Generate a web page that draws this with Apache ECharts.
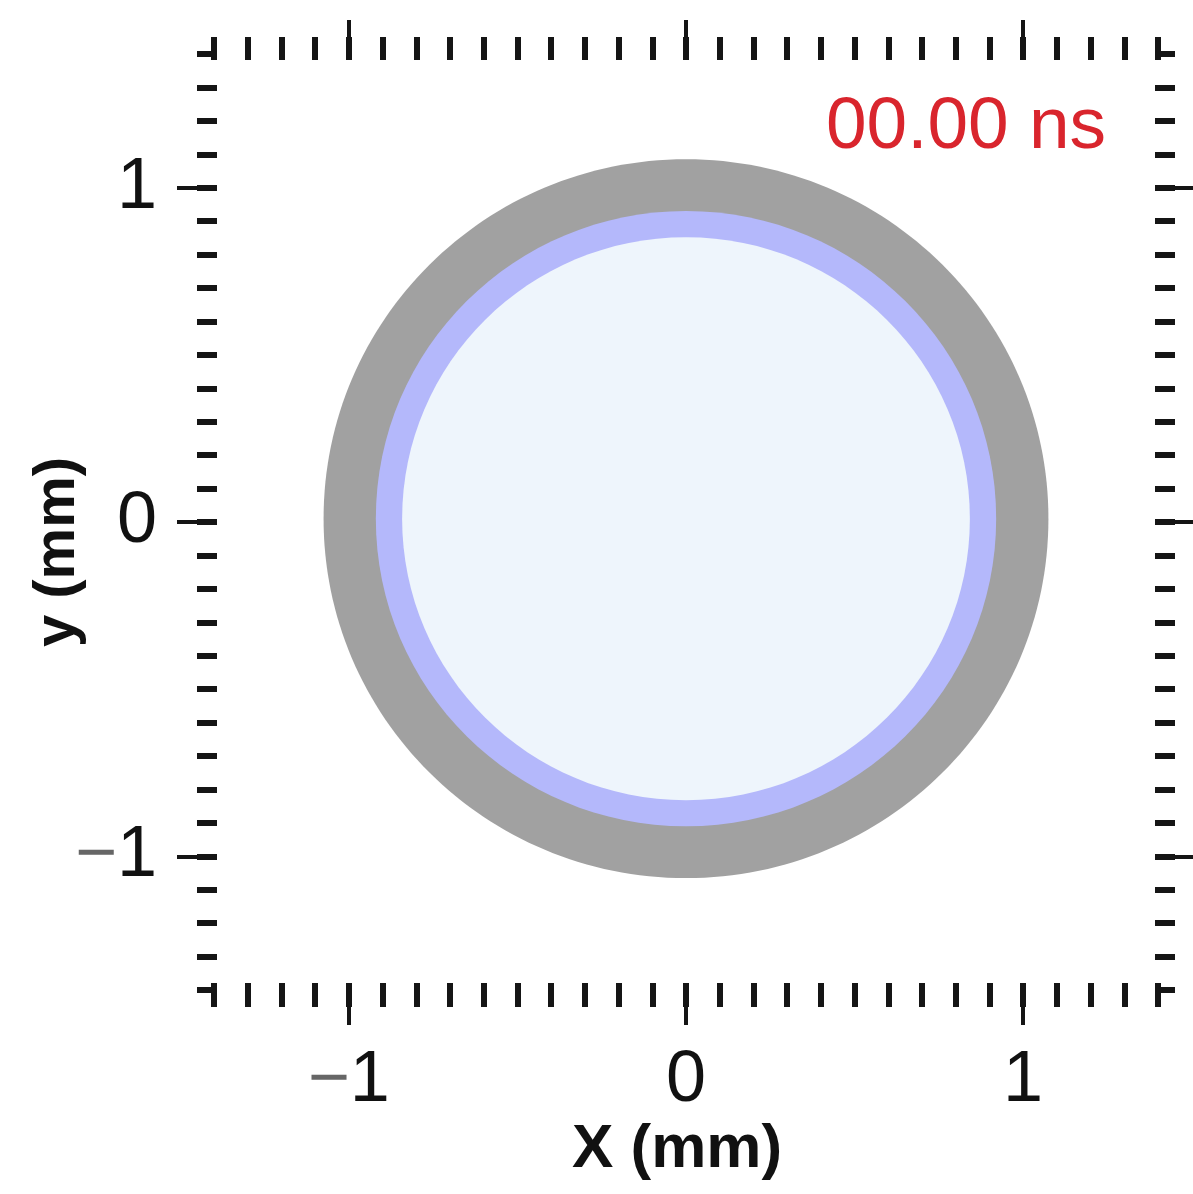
<!DOCTYPE html>
<html>
<head>
<meta charset="utf-8">
<script src="https://cdn.jsdelivr.net/npm/echarts@6/dist/echarts.min.js"></script>
<style>
html,body{margin:0;padding:0;background:#fff;}
#chart{width:1193px;height:1194px;}
</style>
</head>
<body>
<div id="chart"></div>
<script>
// ---- data ----
const axisRange = [-1.4, 1.4];
const minorStep = 0.1;
const xMajorTicks = [-1, 0, 1];
const yMajorTicks = [-1, 0, 1];
const ringCenterX = [0, 0, 0];
const ringCenterY = [0.01, 0.01, 0.01];
const ringRadius = [1.075, 0.92, 0.842];
const ringNames = ['shell', 'layer', 'core'];
const timeLabel = '00.00 ns';
const xTitle = 'X (mm)';
const yTitle = 'y (mm)';

// ---- styles ----
const ringColors = ['#a1a1a1', '#b4b8fb', '#eef5fc'];
const tickColor = '#151515';
const FONT = 'Liberation Sans';

const chart = echarts.init(document.getElementById('chart'), null, {renderer: 'canvas'});

function fmt(v) {
  return v < 0 ? '{m|\u2212}{d|' + Math.abs(v) + '}' : '{d|' + v + '}';
}
const labelRich = {
  d: {fontFamily: FONT, fontSize: 72, color: '#111'},
  m: {fontFamily: FONT, fontSize: 72, color: '#666'}
};

function minorAxis(pos, offset, len, extra) {
  return Object.assign({
    type: 'value', position: pos, offset: offset,
    min: axisRange[0], max: axisRange[1], interval: minorStep,
    axisLine: {show: false, onZero: false},
    axisTick: {show: true, inside: false, length: len, lineStyle: {color: tickColor, width: 6}},
    axisLabel: {show: false},
    splitLine: {show: false}
  }, extra || {});
}
function majorAxis(pos, offset, len, ticks, showLabel, margin) {
  return {
    type: 'value', position: pos, offset: offset,
    min: axisRange[0], max: axisRange[1],
    axisLine: {show: false, onZero: false},
    axisTick: {show: true, inside: false, length: len, customValues: ticks, lineStyle: {color: tickColor, width: 4}},
    axisLabel: {show: showLabel, customValues: ticks, margin: margin || 8, formatter: fmt, rich: labelRich},
    splitLine: {show: false}
  };
}

const ringData = ringRadius.map((r, i) => ({name: ringNames[i], value: [ringCenterX[i], ringCenterY[i], r]}));

const option = {
  backgroundColor: '#fff',
  animation: false,
  title: {
    text: timeLabel, right: 82, top: 86,
    textStyle: {fontFamily: FONT, fontSize: 73, fontWeight: 'normal', color: '#d9252d'}
  },
  grid: {left: 214, right: 35, top: 54, bottom: 204, containLabel: false},
  xAxis: [
    minorAxis('bottom', -7, 24, {
      name: xTitle, nameLocation: 'middle', nameGap: 136,
      nameTextStyle: {fontFamily: FONT, fontSize: 62, fontWeight: 'bold', color: '#111', padding: [0, 18, 0, 0]}
    }),
    majorAxis('bottom', -7, 42, xMajorTicks, true, 62),
    minorAxis('top', -6, 23),
    majorAxis('top', -6, 40, xMajorTicks, false)
  ],
  yAxis: [
    minorAxis('left', -3, 20, {
      name: yTitle, nameLocation: 'middle', nameGap: 130, nameRotate: 90,
      nameTextStyle: {fontFamily: FONT, fontSize: 58, fontWeight: 'bold', color: '#111', padding: [0, 60, 0, 0]}
    }),
    majorAxis('left', -3, 40, yMajorTicks, true, 60),
    minorAxis('right', -3, 20),
    majorAxis('right', -3, 38, yMajorTicks, false)
  ],
  series: [{
    type: 'custom',
    xAxisIndex: 0, yAxisIndex: 0,
    clip: false,
    data: ringData,
    renderItem: function (params, api) {
      const c = api.coord([api.value(0), api.value(1)]);
      const s = api.size([api.value(2), api.value(2)]);
      return {
        type: 'ellipse',
        shape: {cx: c[0], cy: c[1], rx: s[0], ry: s[1]},
        style: {fill: ringColors[params.dataIndex]}
      };
    }
  }]
};
chart.setOption(option);
</script>
</body>
</html>
